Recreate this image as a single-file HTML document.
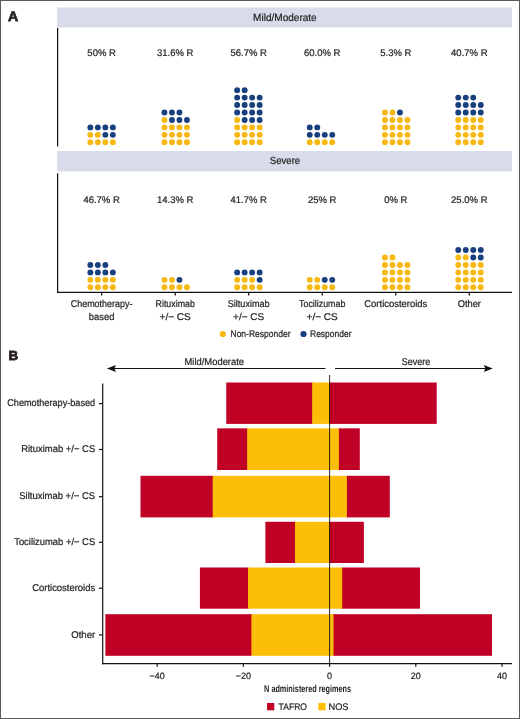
<!DOCTYPE html>
<html lang="en"><head><meta charset="utf-8"><title>Figure</title>
<style>
html,body{margin:0;padding:0;background:#fff;}
body{width:520px;height:719px;overflow:hidden;position:relative;}
svg{display:block;position:absolute;left:0;top:0;}
text{font-family:"Liberation Sans",Arial,Helvetica,sans-serif;fill:#231F20;stroke:#231F20;stroke-width:0.22px;text-rendering:geometricPrecision;}
</style></head><body>
<svg width="520" height="719" viewBox="0 0 520 719">
<rect x="0" y="0" width="520" height="719" fill="#fff"/>
<rect x="57.2" y="7.55" width="454.8" height="19.9" fill="#D8DBE9"/>
<rect x="57.2" y="151" width="454.8" height="20.4" fill="#D8DBE9"/>
<text x="284.9" y="21.1" font-size="10.4" text-anchor="middle" textLength="63.6" lengthAdjust="spacingAndGlyphs">Mild/Moderate</text>
<text x="285" y="164.4" font-size="10.4" text-anchor="middle" textLength="30.4" lengthAdjust="spacingAndGlyphs">Severe</text>
<g stroke="#111111" stroke-width="1.25" fill="none">
<line x1="57.6" y1="28" x2="57.6" y2="146.5"/>
<line x1="57.6" y1="173.3" x2="57.6" y2="292.7"/>
<line x1="57" y1="292.35" x2="512" y2="292.35"/>
<line x1="101.6" y1="292" x2="101.6" y2="295.5"/>
<line x1="175.2" y1="292" x2="175.2" y2="295.5"/>
<line x1="248.7" y1="292" x2="248.7" y2="295.5"/>
<line x1="322.2" y1="292" x2="322.2" y2="295.5"/>
<line x1="395.8" y1="292" x2="395.8" y2="295.5"/>
<line x1="469.3" y1="292" x2="469.3" y2="295.5"/>
</g>
<text x="101.6" y="56.3" font-size="9.6" text-anchor="middle" textLength="28.51" lengthAdjust="spacingAndGlyphs">50% R</text>
<text x="175.2" y="56.3" font-size="9.6" text-anchor="middle" textLength="36.44" lengthAdjust="spacingAndGlyphs">31.6% R</text>
<text x="248.7" y="56.3" font-size="9.6" text-anchor="middle" textLength="36.44" lengthAdjust="spacingAndGlyphs">56.7% R</text>
<text x="322.2" y="56.3" font-size="9.6" text-anchor="middle" textLength="36.44" lengthAdjust="spacingAndGlyphs">60.0% R</text>
<text x="395.8" y="56.3" font-size="9.6" text-anchor="middle" textLength="31.15" lengthAdjust="spacingAndGlyphs">5.3% R</text>
<text x="469.3" y="56.3" font-size="9.6" text-anchor="middle" textLength="36.44" lengthAdjust="spacingAndGlyphs">40.7% R</text>
<text x="101.6" y="202.8" font-size="9.6" text-anchor="middle" textLength="36.44" lengthAdjust="spacingAndGlyphs">46.7% R</text>
<text x="175.2" y="202.8" font-size="9.6" text-anchor="middle" textLength="36.44" lengthAdjust="spacingAndGlyphs">14.3% R</text>
<text x="248.7" y="202.8" font-size="9.6" text-anchor="middle" textLength="36.44" lengthAdjust="spacingAndGlyphs">41.7% R</text>
<text x="322.2" y="202.8" font-size="9.6" text-anchor="middle" textLength="28.51" lengthAdjust="spacingAndGlyphs">25% R</text>
<text x="395.8" y="202.8" font-size="9.6" text-anchor="middle" textLength="23.23" lengthAdjust="spacingAndGlyphs">0% R</text>
<text x="469.3" y="202.8" font-size="9.6" text-anchor="middle" textLength="36.44" lengthAdjust="spacingAndGlyphs">25.0% R</text>
<g fill="#F7B810"><circle cx="90.35" cy="142.30" r="2.95"/><circle cx="97.85" cy="142.30" r="2.95"/><circle cx="105.35" cy="142.30" r="2.95"/><circle cx="112.85" cy="142.30" r="2.95"/><circle cx="90.35" cy="134.85" r="2.95"/><circle cx="97.85" cy="134.85" r="2.95"/></g>
<g fill="#183F7E"><circle cx="105.35" cy="134.85" r="2.95"/><circle cx="112.85" cy="134.85" r="2.95"/><circle cx="90.35" cy="127.40" r="2.95"/><circle cx="97.85" cy="127.40" r="2.95"/><circle cx="105.35" cy="127.40" r="2.95"/><circle cx="112.85" cy="127.40" r="2.95"/></g>
<g fill="#F7B810"><circle cx="164.45" cy="142.30" r="2.95"/><circle cx="171.95" cy="142.30" r="2.95"/><circle cx="179.45" cy="142.30" r="2.95"/><circle cx="186.95" cy="142.30" r="2.95"/><circle cx="164.45" cy="134.85" r="2.95"/><circle cx="171.95" cy="134.85" r="2.95"/><circle cx="179.45" cy="134.85" r="2.95"/><circle cx="186.95" cy="134.85" r="2.95"/><circle cx="164.45" cy="127.40" r="2.95"/><circle cx="171.95" cy="127.40" r="2.95"/><circle cx="179.45" cy="127.40" r="2.95"/><circle cx="186.95" cy="127.40" r="2.95"/><circle cx="164.45" cy="119.95" r="2.95"/></g>
<g fill="#183F7E"><circle cx="171.95" cy="119.95" r="2.95"/><circle cx="179.45" cy="119.95" r="2.95"/><circle cx="186.95" cy="119.95" r="2.95"/><circle cx="164.45" cy="112.50" r="2.95"/><circle cx="171.95" cy="112.50" r="2.95"/><circle cx="179.45" cy="112.50" r="2.95"/></g>
<g fill="#F7B810"><circle cx="237.15" cy="142.30" r="2.95"/><circle cx="244.65" cy="142.30" r="2.95"/><circle cx="252.15" cy="142.30" r="2.95"/><circle cx="259.65" cy="142.30" r="2.95"/><circle cx="237.15" cy="134.85" r="2.95"/><circle cx="244.65" cy="134.85" r="2.95"/><circle cx="252.15" cy="134.85" r="2.95"/><circle cx="259.65" cy="134.85" r="2.95"/><circle cx="237.15" cy="127.40" r="2.95"/><circle cx="244.65" cy="127.40" r="2.95"/><circle cx="252.15" cy="127.40" r="2.95"/><circle cx="259.65" cy="127.40" r="2.95"/><circle cx="237.15" cy="119.95" r="2.95"/></g>
<g fill="#183F7E"><circle cx="244.65" cy="119.95" r="2.95"/><circle cx="252.15" cy="119.95" r="2.95"/><circle cx="259.65" cy="119.95" r="2.95"/><circle cx="237.15" cy="112.50" r="2.95"/><circle cx="244.65" cy="112.50" r="2.95"/><circle cx="252.15" cy="112.50" r="2.95"/><circle cx="259.65" cy="112.50" r="2.95"/><circle cx="237.15" cy="105.05" r="2.95"/><circle cx="244.65" cy="105.05" r="2.95"/><circle cx="252.15" cy="105.05" r="2.95"/><circle cx="259.65" cy="105.05" r="2.95"/><circle cx="237.15" cy="97.60" r="2.95"/><circle cx="244.65" cy="97.60" r="2.95"/><circle cx="252.15" cy="97.60" r="2.95"/><circle cx="259.65" cy="97.60" r="2.95"/><circle cx="237.15" cy="90.15" r="2.95"/><circle cx="244.65" cy="90.15" r="2.95"/></g>
<g fill="#F7B810"><circle cx="309.75" cy="142.30" r="2.95"/><circle cx="317.25" cy="142.30" r="2.95"/><circle cx="324.75" cy="142.30" r="2.95"/><circle cx="332.25" cy="142.30" r="2.95"/></g>
<g fill="#183F7E"><circle cx="309.75" cy="134.85" r="2.95"/><circle cx="317.25" cy="134.85" r="2.95"/><circle cx="324.75" cy="134.85" r="2.95"/><circle cx="332.25" cy="134.85" r="2.95"/><circle cx="309.75" cy="127.40" r="2.95"/><circle cx="317.25" cy="127.40" r="2.95"/></g>
<g fill="#F7B810"><circle cx="384.95" cy="142.30" r="2.95"/><circle cx="392.45" cy="142.30" r="2.95"/><circle cx="399.95" cy="142.30" r="2.95"/><circle cx="407.45" cy="142.30" r="2.95"/><circle cx="384.95" cy="134.85" r="2.95"/><circle cx="392.45" cy="134.85" r="2.95"/><circle cx="399.95" cy="134.85" r="2.95"/><circle cx="407.45" cy="134.85" r="2.95"/><circle cx="384.95" cy="127.40" r="2.95"/><circle cx="392.45" cy="127.40" r="2.95"/><circle cx="399.95" cy="127.40" r="2.95"/><circle cx="407.45" cy="127.40" r="2.95"/><circle cx="384.95" cy="119.95" r="2.95"/><circle cx="392.45" cy="119.95" r="2.95"/><circle cx="399.95" cy="119.95" r="2.95"/><circle cx="407.45" cy="119.95" r="2.95"/><circle cx="384.95" cy="112.50" r="2.95"/><circle cx="392.45" cy="112.50" r="2.95"/></g>
<g fill="#183F7E"><circle cx="399.95" cy="112.50" r="2.95"/></g>
<g fill="#F7B810"><circle cx="458.25" cy="142.30" r="2.95"/><circle cx="465.75" cy="142.30" r="2.95"/><circle cx="473.25" cy="142.30" r="2.95"/><circle cx="480.75" cy="142.30" r="2.95"/><circle cx="458.25" cy="134.85" r="2.95"/><circle cx="465.75" cy="134.85" r="2.95"/><circle cx="473.25" cy="134.85" r="2.95"/><circle cx="480.75" cy="134.85" r="2.95"/><circle cx="458.25" cy="127.40" r="2.95"/><circle cx="465.75" cy="127.40" r="2.95"/><circle cx="473.25" cy="127.40" r="2.95"/><circle cx="480.75" cy="127.40" r="2.95"/><circle cx="458.25" cy="119.95" r="2.95"/><circle cx="465.75" cy="119.95" r="2.95"/><circle cx="473.25" cy="119.95" r="2.95"/><circle cx="480.75" cy="119.95" r="2.95"/></g>
<g fill="#183F7E"><circle cx="458.25" cy="112.50" r="2.95"/><circle cx="465.75" cy="112.50" r="2.95"/><circle cx="473.25" cy="112.50" r="2.95"/><circle cx="480.75" cy="112.50" r="2.95"/><circle cx="458.25" cy="105.05" r="2.95"/><circle cx="465.75" cy="105.05" r="2.95"/><circle cx="473.25" cy="105.05" r="2.95"/><circle cx="480.75" cy="105.05" r="2.95"/><circle cx="458.25" cy="97.60" r="2.95"/><circle cx="465.75" cy="97.60" r="2.95"/><circle cx="473.25" cy="97.60" r="2.95"/></g>
<g fill="#F7B810"><circle cx="90.35" cy="287.30" r="2.95"/><circle cx="97.85" cy="287.30" r="2.95"/><circle cx="105.35" cy="287.30" r="2.95"/><circle cx="112.85" cy="287.30" r="2.95"/><circle cx="90.35" cy="279.85" r="2.95"/><circle cx="97.85" cy="279.85" r="2.95"/><circle cx="105.35" cy="279.85" r="2.95"/><circle cx="112.85" cy="279.85" r="2.95"/></g>
<g fill="#183F7E"><circle cx="90.35" cy="272.40" r="2.95"/><circle cx="97.85" cy="272.40" r="2.95"/><circle cx="105.35" cy="272.40" r="2.95"/><circle cx="112.85" cy="272.40" r="2.95"/><circle cx="90.35" cy="264.95" r="2.95"/><circle cx="97.85" cy="264.95" r="2.95"/><circle cx="105.35" cy="264.95" r="2.95"/></g>
<g fill="#F7B810"><circle cx="164.45" cy="287.30" r="2.95"/><circle cx="171.95" cy="287.30" r="2.95"/><circle cx="179.45" cy="287.30" r="2.95"/><circle cx="186.95" cy="287.30" r="2.95"/><circle cx="164.45" cy="279.85" r="2.95"/><circle cx="171.95" cy="279.85" r="2.95"/></g>
<g fill="#183F7E"><circle cx="179.45" cy="279.85" r="2.95"/></g>
<g fill="#F7B810"><circle cx="237.15" cy="287.30" r="2.95"/><circle cx="244.65" cy="287.30" r="2.95"/><circle cx="252.15" cy="287.30" r="2.95"/><circle cx="259.65" cy="287.30" r="2.95"/><circle cx="237.15" cy="279.85" r="2.95"/><circle cx="244.65" cy="279.85" r="2.95"/><circle cx="252.15" cy="279.85" r="2.95"/></g>
<g fill="#183F7E"><circle cx="259.65" cy="279.85" r="2.95"/><circle cx="237.15" cy="272.40" r="2.95"/><circle cx="244.65" cy="272.40" r="2.95"/><circle cx="252.15" cy="272.40" r="2.95"/><circle cx="259.65" cy="272.40" r="2.95"/></g>
<g fill="#F7B810"><circle cx="309.75" cy="287.30" r="2.95"/><circle cx="317.25" cy="287.30" r="2.95"/><circle cx="324.75" cy="287.30" r="2.95"/><circle cx="332.25" cy="287.30" r="2.95"/><circle cx="309.75" cy="279.85" r="2.95"/><circle cx="317.25" cy="279.85" r="2.95"/></g>
<g fill="#183F7E"><circle cx="324.75" cy="279.85" r="2.95"/><circle cx="332.25" cy="279.85" r="2.95"/></g>
<g fill="#F7B810"><circle cx="384.95" cy="287.30" r="2.95"/><circle cx="392.45" cy="287.30" r="2.95"/><circle cx="399.95" cy="287.30" r="2.95"/><circle cx="407.45" cy="287.30" r="2.95"/><circle cx="384.95" cy="279.85" r="2.95"/><circle cx="392.45" cy="279.85" r="2.95"/><circle cx="399.95" cy="279.85" r="2.95"/><circle cx="407.45" cy="279.85" r="2.95"/><circle cx="384.95" cy="272.40" r="2.95"/><circle cx="392.45" cy="272.40" r="2.95"/><circle cx="399.95" cy="272.40" r="2.95"/><circle cx="407.45" cy="272.40" r="2.95"/><circle cx="384.95" cy="264.95" r="2.95"/><circle cx="392.45" cy="264.95" r="2.95"/><circle cx="399.95" cy="264.95" r="2.95"/><circle cx="407.45" cy="264.95" r="2.95"/><circle cx="384.95" cy="257.50" r="2.95"/><circle cx="392.45" cy="257.50" r="2.95"/></g>
<g fill="#F7B810"><circle cx="458.25" cy="287.30" r="2.95"/><circle cx="465.75" cy="287.30" r="2.95"/><circle cx="473.25" cy="287.30" r="2.95"/><circle cx="480.75" cy="287.30" r="2.95"/><circle cx="458.25" cy="279.85" r="2.95"/><circle cx="465.75" cy="279.85" r="2.95"/><circle cx="473.25" cy="279.85" r="2.95"/><circle cx="480.75" cy="279.85" r="2.95"/><circle cx="458.25" cy="272.40" r="2.95"/><circle cx="465.75" cy="272.40" r="2.95"/><circle cx="473.25" cy="272.40" r="2.95"/><circle cx="480.75" cy="272.40" r="2.95"/><circle cx="458.25" cy="264.95" r="2.95"/><circle cx="465.75" cy="264.95" r="2.95"/><circle cx="473.25" cy="264.95" r="2.95"/><circle cx="480.75" cy="264.95" r="2.95"/><circle cx="458.25" cy="257.50" r="2.95"/><circle cx="465.75" cy="257.50" r="2.95"/></g>
<g fill="#183F7E"><circle cx="473.25" cy="257.50" r="2.95"/><circle cx="480.75" cy="257.50" r="2.95"/><circle cx="458.25" cy="250.05" r="2.95"/><circle cx="465.75" cy="250.05" r="2.95"/><circle cx="473.25" cy="250.05" r="2.95"/><circle cx="480.75" cy="250.05" r="2.95"/></g>
<text x="101.6" y="307.3" font-size="9.8" text-anchor="middle" textLength="61.8" lengthAdjust="spacingAndGlyphs">Chemotherapy-</text>
<text x="101.6" y="319.6" font-size="9.8" text-anchor="middle" textLength="25.6" lengthAdjust="spacingAndGlyphs">based</text>
<text x="175.2" y="307.3" font-size="9.8" text-anchor="middle" textLength="39.3" lengthAdjust="spacingAndGlyphs">Rituximab</text>
<text x="175.2" y="319.6" font-size="9.8" text-anchor="middle" textLength="31.2" lengthAdjust="spacingAndGlyphs">+/− CS</text>
<text x="248.7" y="307.3" font-size="9.8" text-anchor="middle" textLength="42.0" lengthAdjust="spacingAndGlyphs">Siltuximab</text>
<text x="248.7" y="319.6" font-size="9.8" text-anchor="middle" textLength="31.2" lengthAdjust="spacingAndGlyphs">+/− CS</text>
<text x="322.2" y="307.3" font-size="9.8" text-anchor="middle" textLength="46.3" lengthAdjust="spacingAndGlyphs">Tocilizumab</text>
<text x="322.2" y="319.6" font-size="9.8" text-anchor="middle" textLength="31.2" lengthAdjust="spacingAndGlyphs">+/− CS</text>
<text x="395.8" y="307.3" font-size="9.8" text-anchor="middle" textLength="63.0" lengthAdjust="spacingAndGlyphs">Corticosteroids</text>
<text x="469.3" y="307.3" font-size="9.8" text-anchor="middle" textLength="23.3" lengthAdjust="spacingAndGlyphs">Other</text>
<circle cx="222.8" cy="334" r="3.1" fill="#F7B810"/>
<text x="230.5" y="337" font-size="9.6" text-anchor="start" textLength="60" lengthAdjust="spacingAndGlyphs">Non-Responder</text>
<circle cx="303.5" cy="334" r="3.1" fill="#183F7E"/>
<text x="310" y="337" font-size="9.6" text-anchor="start" textLength="41.5" lengthAdjust="spacingAndGlyphs">Responder</text>
<text x="8.1" y="20.7" font-size="13.6" text-anchor="start" textLength="10.2" lengthAdjust="spacingAndGlyphs" font-weight="bold" style="stroke-width:0.75px">A</text>
<text x="8.5" y="359.55" font-size="13.1" text-anchor="start" textLength="9.6" lengthAdjust="spacingAndGlyphs" font-weight="bold" style="stroke-width:0.75px">B</text>
<g stroke="#111111" stroke-width="1.2" fill="none"><line x1="113" y1="368.5" x2="325.5" y2="368.5"/><line x1="335" y1="368.5" x2="486.5" y2="368.5"/></g>
<path d="M106.9 368.5 L116 364.9 L114.3 368.5 L116 372.1 Z" fill="#111111"/>
<path d="M492.8 368.5 L483.7 364.9 L485.4 368.5 L483.7 372.1 Z" fill="#111111"/>
<text x="214.3" y="365" font-size="9.8" text-anchor="middle" textLength="59.5" lengthAdjust="spacingAndGlyphs">Mild/Moderate</text>
<text x="416" y="365" font-size="9.8" text-anchor="middle" textLength="28.3" lengthAdjust="spacingAndGlyphs">Severe</text>
<rect x="226.25" y="382.5" width="86.55" height="41.40" fill="#C00025"/>
<rect x="329.00" y="382.5" width="107.70" height="41.40" fill="#C00025"/>
<rect x="312.2" y="382.5" width="17.40" height="41.40" fill="#FCBE07"/>
<rect x="217.2" y="428.35" width="30.60" height="41.65" fill="#C00025"/>
<rect x="338.30" y="428.35" width="21.50" height="41.65" fill="#C00025"/>
<rect x="247.2" y="428.35" width="91.70" height="41.65" fill="#FCBE07"/>
<rect x="140.5" y="475.8" width="72.80" height="41.60" fill="#C00025"/>
<rect x="346.30" y="475.8" width="43.50" height="41.60" fill="#C00025"/>
<rect x="212.7" y="475.8" width="134.20" height="41.60" fill="#FCBE07"/>
<rect x="265.4" y="521.8" width="30.20" height="41.20" fill="#C00025"/>
<rect x="329.00" y="521.8" width="34.90" height="41.20" fill="#C00025"/>
<rect x="295.0" y="521.8" width="34.60" height="41.20" fill="#FCBE07"/>
<rect x="199.9" y="567.5" width="48.70" height="41.20" fill="#C00025"/>
<rect x="341.60" y="567.5" width="78.40" height="41.20" fill="#C00025"/>
<rect x="248.0" y="567.5" width="94.20" height="41.20" fill="#FCBE07"/>
<rect x="105.4" y="614.2" width="146.60" height="41.60" fill="#C00025"/>
<rect x="332.90" y="614.2" width="159.10" height="41.60" fill="#C00025"/>
<rect x="251.4" y="614.2" width="82.10" height="41.60" fill="#FCBE07"/>
<g stroke="#111111" stroke-width="1.2" fill="none">
<line x1="102.7" y1="383.5" x2="102.7" y2="664.2"/>
<line x1="102.1" y1="663.6" x2="512" y2="663.6"/>
<line x1="99" y1="403.60" x2="102.5" y2="403.60"/>
<line x1="99" y1="449.50" x2="102.5" y2="449.50"/>
<line x1="99" y1="496.70" x2="102.5" y2="496.70"/>
<line x1="99" y1="542.30" x2="102.5" y2="542.30"/>
<line x1="99" y1="588.20" x2="102.5" y2="588.20"/>
<line x1="99" y1="634.90" x2="102.5" y2="634.90"/>
<line x1="157.20" y1="663.5" x2="157.20" y2="666.7"/>
<line x1="243.40" y1="663.5" x2="243.40" y2="666.7"/>
<line x1="329.60" y1="663.5" x2="329.60" y2="666.7"/>
<line x1="415.80" y1="663.5" x2="415.80" y2="666.7"/>
<line x1="502.00" y1="663.5" x2="502.00" y2="666.7"/>
</g>
<line x1="329.6" y1="375" x2="329.6" y2="663.5" stroke="#111111" stroke-width="0.9"/>
<text x="95.2" y="406.20000000000005" font-size="9.8" text-anchor="end" textLength="88" lengthAdjust="spacingAndGlyphs">Chemotherapy-based</text>
<text x="95.2" y="452.1" font-size="9.8" text-anchor="end" textLength="74" lengthAdjust="spacingAndGlyphs">Rituximab +/− CS</text>
<text x="95.2" y="499.3" font-size="9.8" text-anchor="end" textLength="76" lengthAdjust="spacingAndGlyphs">Siltuximab +/− CS</text>
<text x="95.2" y="544.9" font-size="9.8" text-anchor="end" textLength="81" lengthAdjust="spacingAndGlyphs">Tocilizumab +/− CS</text>
<text x="95.2" y="590.8000000000001" font-size="9.8" text-anchor="end" textLength="63" lengthAdjust="spacingAndGlyphs">Corticosteroids</text>
<text x="95.2" y="637.5" font-size="9.8" text-anchor="end" textLength="24" lengthAdjust="spacingAndGlyphs">Other</text>
<text x="157.20000000000005" y="678.8" font-size="9.2" text-anchor="middle" textLength="15.27" lengthAdjust="spacingAndGlyphs">−40</text>
<text x="243.40000000000003" y="678.8" font-size="9.2" text-anchor="middle" textLength="15.27" lengthAdjust="spacingAndGlyphs">−20</text>
<text x="329.6" y="678.8" font-size="9.2" text-anchor="middle" textLength="5.01" lengthAdjust="spacingAndGlyphs">0</text>
<text x="415.8" y="678.8" font-size="9.2" text-anchor="middle" textLength="10.01" lengthAdjust="spacingAndGlyphs">20</text>
<text x="502.0" y="678.8" font-size="9.2" text-anchor="middle" textLength="10.01" lengthAdjust="spacingAndGlyphs">40</text>
<text x="307.6" y="691.8" font-size="10" text-anchor="middle" textLength="87" lengthAdjust="spacingAndGlyphs" style="font-weight:bold;stroke-width:0">N administered regimens</text>
<rect x="267" y="703" width="7.3" height="7.3" fill="#C00025"/>
<text x="278.6" y="709.6" font-size="9.6" text-anchor="start" textLength="28.4" lengthAdjust="spacingAndGlyphs">TAFRO</text>
<rect x="318.3" y="703" width="7.3" height="7.3" fill="#FCBE07"/>
<text x="328.5" y="709.6" font-size="9.6" text-anchor="start" textLength="20" lengthAdjust="spacingAndGlyphs">NOS</text>
<rect x="0.5" y="0.5" width="519" height="718" fill="none" stroke="#5a5a5a" stroke-width="1"/>
</svg>
</body></html>
